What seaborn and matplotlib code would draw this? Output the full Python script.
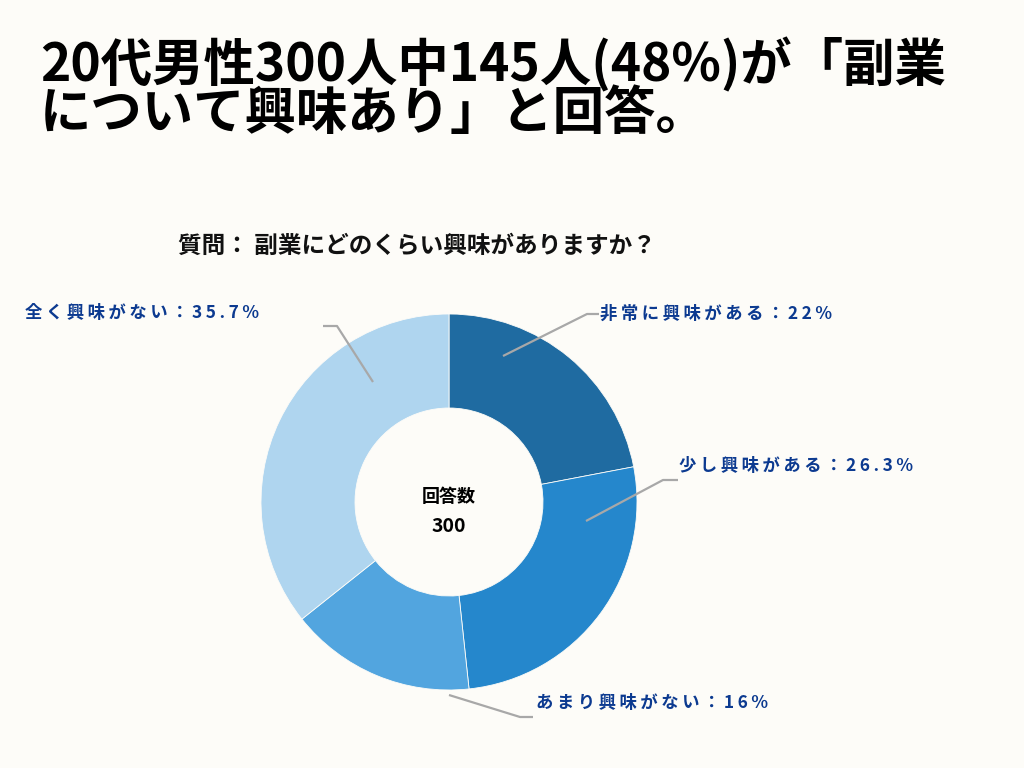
import matplotlib
matplotlib.use("Agg")
import matplotlib.pyplot as plt
import seaborn as sns

# data
labels = ["非常に興味がある", "少し興味がある", "あまり興味がない", "全く興味がない"]
shares = [22, 26.3, 16, 35.7]
share_text = ["22%", "26.3%", "16%", "35.7%"]
total = 300

title = "20代男性300人中145人(48%)が「副業\nについて興味あり」と回答。"
question = "質問： 副業にどのくらい興味がありますか？"

bg = "#fdfcf8"
colors = sns.color_palette(["#1f6ba1", "#2587cc", "#52a5df", "#afd5ef"])
label_color = "#0c3a90"
line_color = "#a8a8a8"

sns.set_theme(style="white", rc={"figure.facecolor": bg, "axes.facecolor": bg})
plt.rcParams["font.family"] = ["Noto Sans CJK JP", "DejaVu Sans"]

fig = plt.figure(figsize=(10.24, 7.68), dpi=100)
ax = fig.add_axes([0, 0, 1, 1])

# pie in pixel coordinates (y axis flipped afterwards)
cx, cy, r = 449, 502, 188
ax.pie(shares, colors=colors, center=(cx, cy), radius=r, startangle=-90,
       counterclock=True,
       wedgeprops=dict(width=r * 0.5, edgecolor=bg, linewidth=0.6))
ax.set_xlim(0, 1024)
ax.set_ylim(768, 0)
ax.set_aspect("auto")
ax.axis("off")

# title and question
ax.text(40, 65, title.split("\n")[0], fontsize=37, fontweight="bold",
        color="black", va="center", ha="left")
ax.text(40, 114, title.split("\n")[1], fontsize=37, fontweight="bold",
        color="black", va="center", ha="left")
ax.text(178, 246, question, fontsize=17, fontweight="bold",
        color="#111111", va="center", ha="left")

# center text
ax.text(cx, 496, "回答数", fontsize=13, fontweight="bold", color="black",
        ha="center", va="center")
ax.text(cx, 527, str(total), fontsize=14, fontweight="bold", color="black",
        ha="center", va="center")

# leader lines: anchor, elbow, end
leaders = [
    [(503, 356), (587, 314), (599, 314)],
    [(586, 521), (663, 480), (678, 480)],
    [(449, 695), (520, 717), (533, 717)],
    [(373, 382), (337, 326), (323, 326)],
]
text_pos = [(600, 314), (679, 466), (536, 703), (25, 313)]


def spaced(s):
    return "\u2009".join(s)


for lab, pct, pts, (tx, ty) in zip(labels, share_text, leaders, text_pos):
    xs = [p[0] for p in pts]
    ys = [p[1] for p in pts]
    ax.plot(xs, ys, color=line_color, lw=1.6, solid_capstyle="butt")
    ax.text(tx, ty, spaced(lab + "：") + "\u2009" + spaced(pct), fontsize=12.5,
            fontweight="bold", color=label_color, ha="left", va="center")

fig.savefig("out.png", dpi=100, facecolor=bg)
